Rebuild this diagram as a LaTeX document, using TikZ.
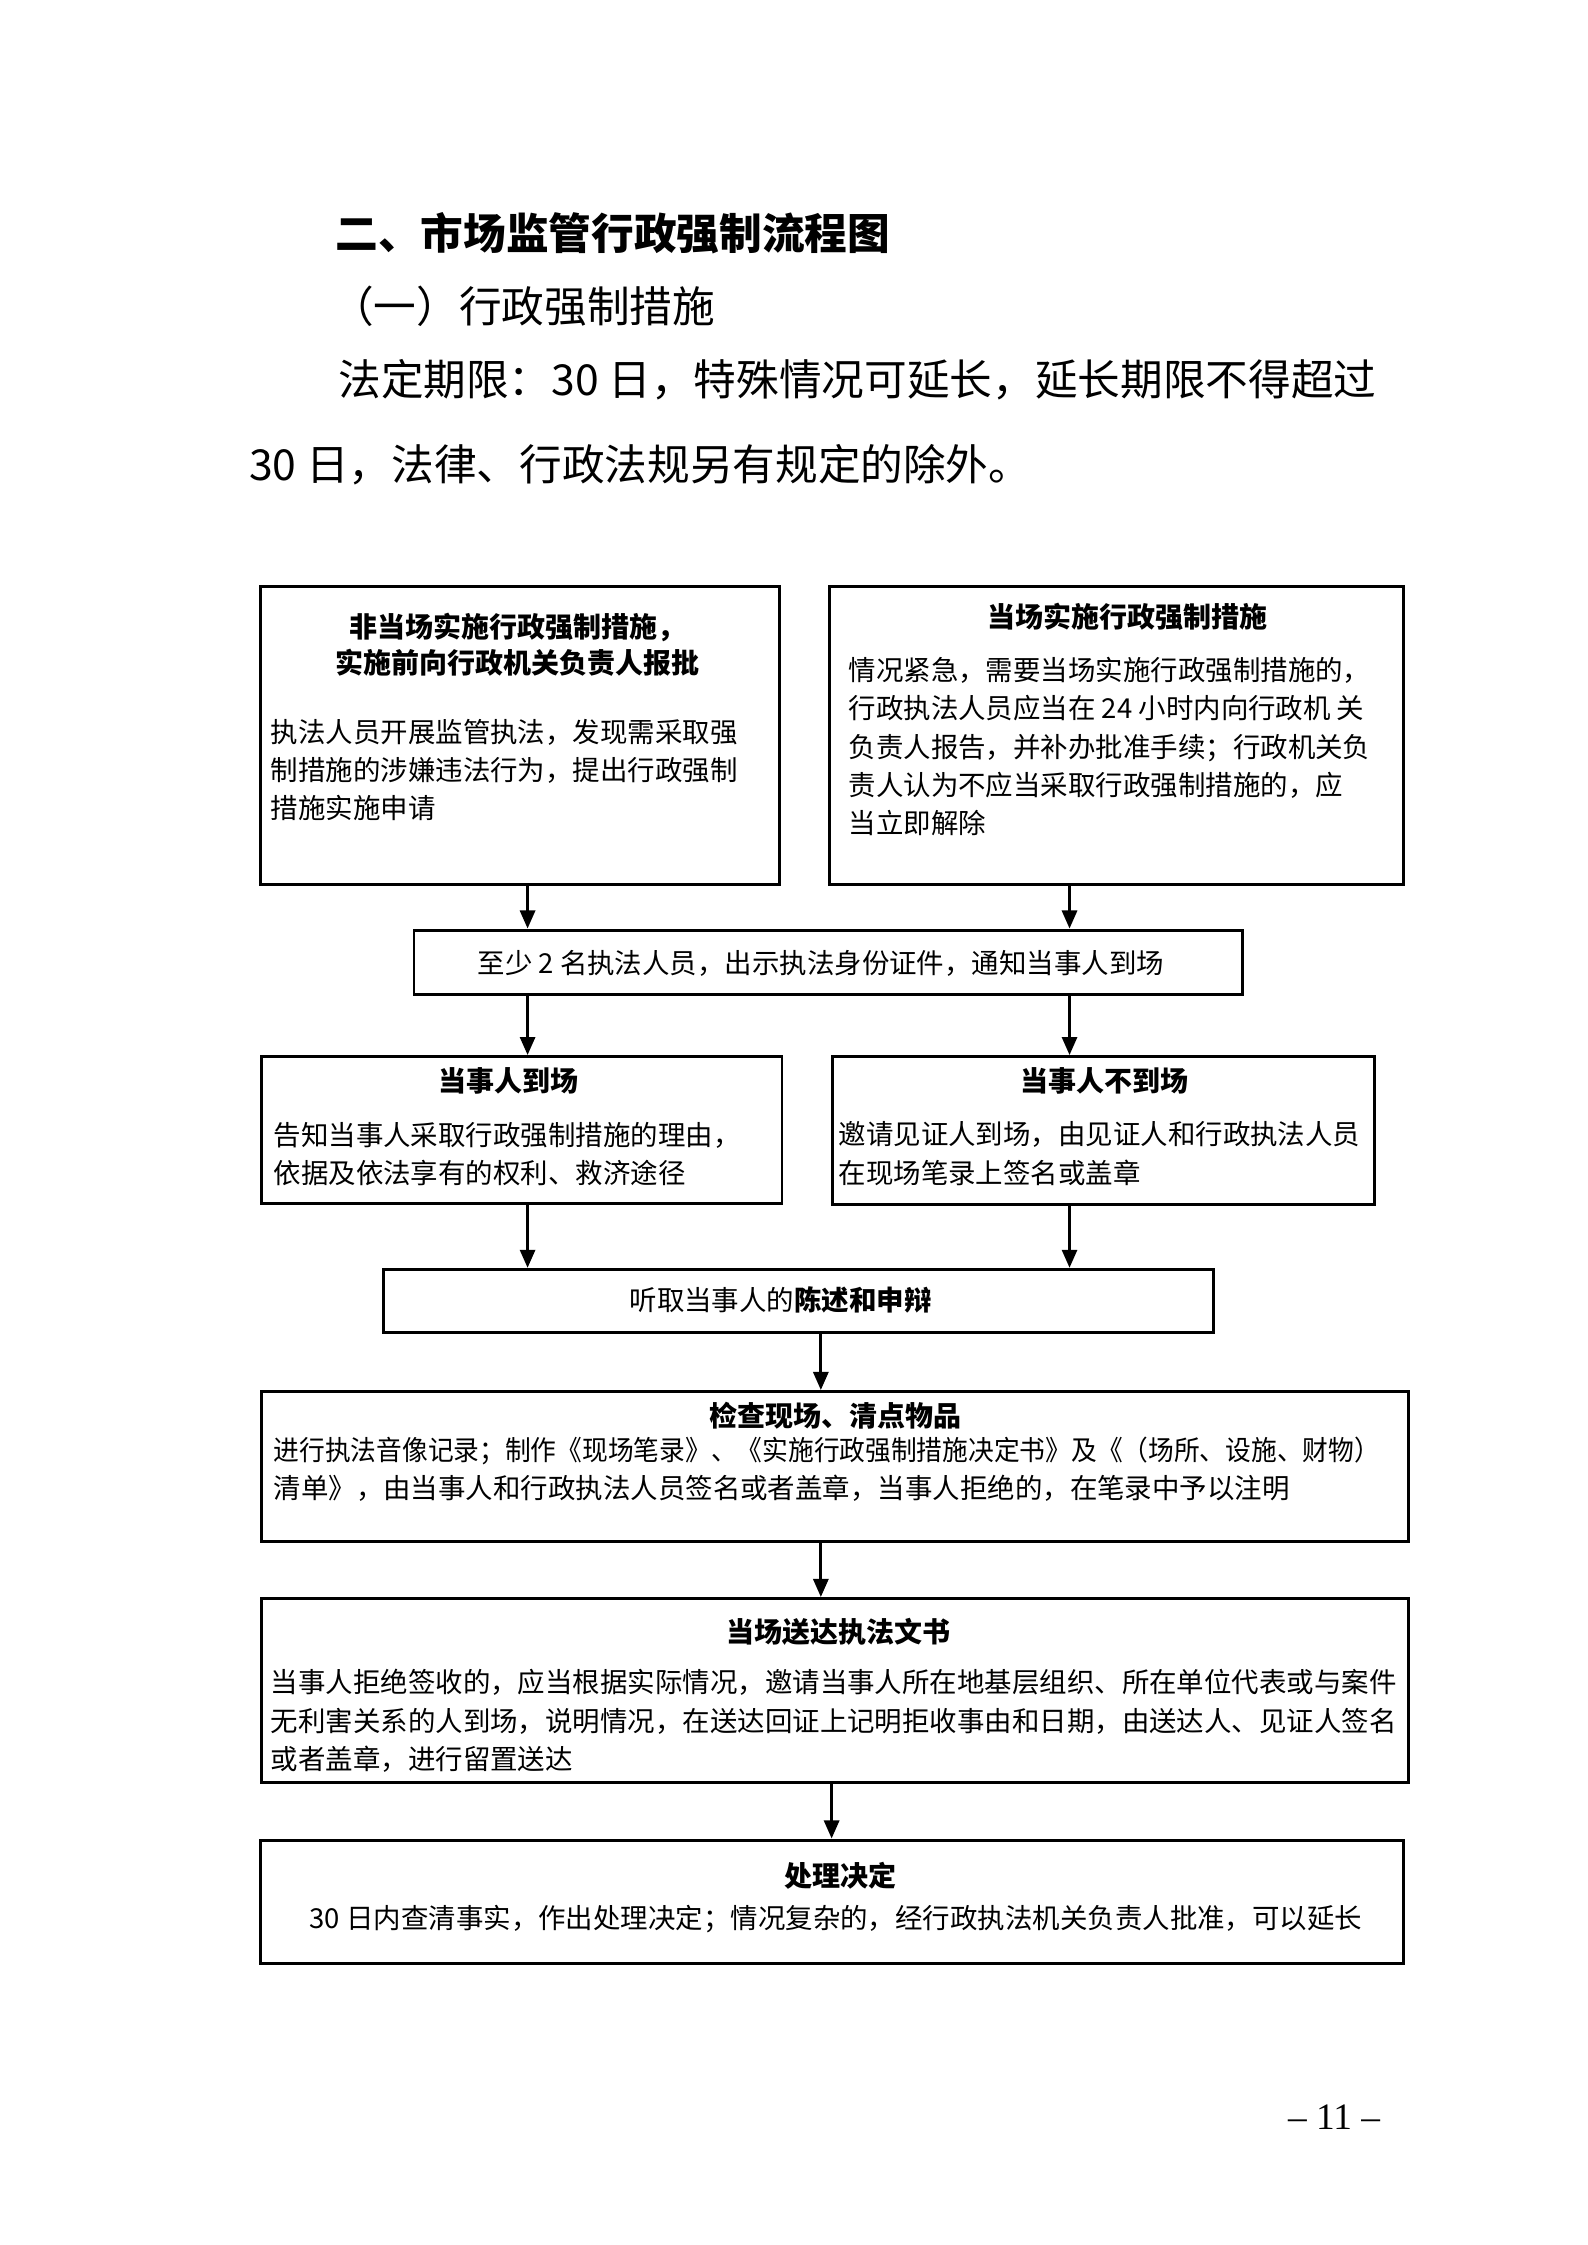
\documentclass[tikz,border=0pt]{standalone}
\usepackage{fontspec}
\usepackage{graphicx}
\setmainfont{Noto Sans CJK SC}
\newfontfamily\pagenofont{Liberation Serif}
\usetikzlibrary{arrows.meta,fit}

\begin{document}
\begin{tikzpicture}[x=0.5392pt,y=-0.5392pt,
   box/.style={draw,line width=1.1pt,inner sep=0pt},
   hd/.style={font=\bfseries\fontsize{10.5}{13.5}\selectfont,align=center,inner sep=0pt},
   body/.style={font=\fontsize{10.3}{14.3}\selectfont,align=left,inner sep=0pt,anchor=north west},
   arr/.style={line width=1.2pt,-{Triangle[length=6.8pt,width=5.6pt]}},
   big/.style={font=\fontsize{16}{16}\selectfont,anchor=west,inner sep=0pt}]
   \useasboundingbox (0,0) rectangle (1104,1561.7);
   % heading
   \node[big,font=\bfseries\fontsize{16}{16}\selectfont] (ttl) at (233,162) {二、市场监管行政强制流程图};
   \node[big] (sub) at (230,213) {（一）行政强制措施};
   \node[big] (lim1) at (235,264) {法定期限：30 日，特殊情况可延长，延长期限不得超过};
   \node[big] (lim2) at (173,323) {30 日，法律、行政法规另有规定的除外。};
   % boxes
   \node[box,fit={(181,408) (542,615)}] (b1) {};
   \node[box,fit={(577,408) (976,615)}] (b2) {};
   \node[box,fit={(288,647) (864,692)}] (b3) {};
   \node[box,fit={(182,735) (544,837)}] (b4) {};
   \node[box,fit={(579,735) (956,838)}] (b5) {};
   \node[box,fit={(267,883) (844,927)}] (b6) {};
   \node[box,fit={(182,968) (980,1072)}] (b7) {};
   \node[box,fit={(182,1112) (980,1240)}] (b8) {};
   \node[box,fit={(181,1280) (976,1366)}] (b9) {};
   % texts in the boxes
   \node[hd] (t1) at (360,448.5) {非当场实施行政强制措施，\\实施前向行政机关负责人报批};
   \node[body] (s1) at (188,500) {执法人员开展监管执法，发现需采取强\\制措施的涉嫌违法行为，提出行政强制\\措施实施申请};
   \node[hd] (t2) at (784,429) {当场实施行政强制措施};
   \node[body] (s2) at (590,457) {情况紧急，需要当场实施行政强制措施的，\\行政执法人员应当在 24 小时内向行政机 关\\负责人报告，并补办批准手续；行政机关负\\责人认为不应当采取行政强制措施的，应\\当立即解除};
   \node[body,anchor=center] (s3) at (571,670) {至少 2 名执法人员，出示执法身份证件，通知当事人到场};
   \node[hd] (t4) at (354,752) {当事人到场};
   \node[body] (s4) at (190,780) {告知当事人采取行政强制措施的理由，\\依据及依法享有的权利、救济途径};
   \node[hd] (t5) at (768,752) {当事人不到场};
   \node[body] (s5) at (583,780) {邀请见证人到场，由见证人和行政执法人员\\在现场笔录上签名或盖章};
   \node[body,anchor=center] (s6) at (543,904) {听取当事人的\textbf{陈述和申辩}};
   \node[hd] (t7) at (581,985) {检查现场、清点物品};
   \node[body] (s7) at (190,999) {\scalebox{0.937}[1]{进行执法音像记录；制作《现场笔录》、《实施行政强制措施决定书》及《（场所、设施、财物）}\\清单》，由当事人和行政执法人员签名或者盖章，当事人拒绝的，在笔录中予以注明};
   \node[hd] (t8) at (583,1135) {当场送达执法文书};
   \node[body] (s8) at (188,1161) {当事人拒绝签收的，应当根据实际情况，邀请当事人所在地基层组织、所在单位代表或与案件\\无利害关系的人到场，说明情况，在送达回证上记明拒收事由和日期，由送达人、见证人签名\\或者盖章，进行留置送达};
   \node[hd] (t9) at (585,1305) {处理决定};
   \node[body] (s9) at (215,1325) {30 日内查清事实，作出处理决定；情况复杂的，经行政执法机关负责人批准，可以延长};
   % arrows
   \coordinate (xl) at (367,0);
   \coordinate (xr) at (744,0);
   \coordinate (xm) at (571,0);
   \draw[arr] (b1.south -| xl) -- (b3.north -| xl);
   \draw[arr] (b2.south -| xr) -- (b3.north -| xr);
   \draw[arr] (b3.south -| xl) -- (b4.north -| xl);
   \draw[arr] (b3.south -| xr) -- (b5.north -| xr);
   \draw[arr] (b4.south -| xl) -- (b6.north -| xl);
   \draw[arr] (b5.south -| xr) -- (b6.north -| xr);
   \draw[arr] (b6.south -| xm) -- (b7.north -| xm);
   \draw[arr] (b7.south -| xm) -- (b8.north -| xm);
   \draw[arr] (b8.south -| b9.north) -- (b9.north);
   % page number
   \node[font=\pagenofont\fontsize{14}{14}\selectfont] (pg) at (928,1473) {– 11 –};
\end{tikzpicture}
\end{document}
